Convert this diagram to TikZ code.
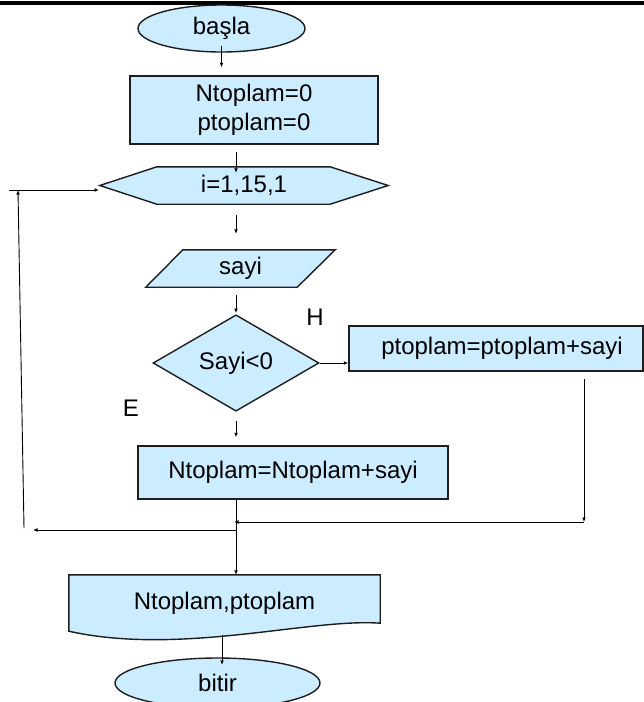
\documentclass[tikz,border=0pt]{standalone}
\usepackage{fontspec}
\setmainfont{Liberation Sans}
\usetikzlibrary{shapes.geometric,arrows.meta,calc,backgrounds}
\definecolor{fillblue}{RGB}{204,236,255}
\definecolor{edgecol}{RGB}{30,30,30}
\begin{document}
\begin{tikzpicture}[x=1pt,y=-1pt,
  every node/.style={font=\fontsize{24pt}{28.8pt}\selectfont, inner sep=0pt, text=black},
  shapeline/.style={draw=edgecol, line width=1.4pt, fill=fillblue},
  procbox/.style={shapeline, rectangle},
  term/.style={shapeline, ellipse},
  decbox/.style={shapeline, diamond},
  arr/.style={draw=black, line width=0.9pt, -{Latex[length=4.5pt,width=3.8pt]}},
  plainline/.style={draw=black, line width=0.9pt}]
\useasboundingbox (0,0) rectangle (644,702);
\clip (0,0) rectangle (644,702);

% top rule
\draw[line width=3.5pt] (0,3) -- (644,3);

% nodes
\node[term, minimum width=167pt, minimum height=47pt] (basla) at (221.5,28.5) {başla};
\node[procbox, minimum width=248pt, minimum height=68pt, align=center] (init) at (254,110) {Ntoplam=0\\ptoplam=0};
\node[minimum width=288pt, minimum height=37pt] (loop) at (244,185.5) {i=1,15,1};
\node[minimum width=189pt, minimum height=37pt] (sayi) at (240.5,268.5) {sayi};
\node[decbox, minimum width=166pt, minimum height=90pt] (dec) at (236,363) {Sayi<0};
\node[procbox, minimum width=294pt, minimum height=45pt] (pbox) at (496,348.5) {\hspace*{12pt}ptoplam=ptoplam+sayi};
\node[procbox, minimum width=310pt, minimum height=53pt] (nbox) at (293,472.5) {Ntoplam=Ntoplam+sayi};
\node[minimum width=311pt, minimum height=57pt] (out) at (224.5,603.5) {Ntoplam,ptoplam};
\node[term, minimum width=205pt, minimum height=50pt] (bitir) at (217.5,683) {bitir};
\node (H) at (315,317) {H};
\node (E) at (131,408) {E};

% shapes drawn behind their texts
\begin{scope}[on background layer]
  \draw[shapeline] (loop.west) -- ($(loop.north west)+(57,0)$) -- ($(loop.north east)+(-58,0)$)
    -- (loop.east) -- ($(loop.south east)+(-58,0)$) -- ($(loop.south west)+(57,0)$) -- cycle;
  \draw[shapeline] (sayi.south west) -- ($(sayi.north west)+(37,0)$) -- (sayi.north east)
    -- ($(sayi.south east)+(-38,0)$) -- cycle;
  \draw[shapeline] (out.north west) -- (out.north east) -- ($(out.south east)+(0,-9)$)
    .. controls (310,618) and (180,656) .. ($(out.south west)+(0,-1)$) -- cycle;
\end{scope}

% connector coordinates
\coordinate (pd) at (584,522);
\coordinate (mj) at (236,522);
\coordinate (lj) at (236,530);
\coordinate (le) at (33,530);
\coordinate (vb) at (24,528);
\coordinate (vt) at (18,190);
\coordinate (hs) at (9,190);
\coordinate (he) at (99,190);
\coordinate (o2) at (222,635);
\coordinate (b2) at (222,665);

% connectors
\draw[arr, shorten <=-7pt, shorten >=8pt] (basla.south) -- (basla.south |- init.north);
\draw[arr, shorten <=7pt, shorten >=-6pt] (init.south -| dec.north) -- (loop.north -| dec.north);
\draw[arr, shorten <=11pt, shorten >=16pt] (loop.south -| dec.north) -- (sayi.north -| dec.north);
\draw[arr, shorten <=8pt, shorten >=1pt] (sayi.south -| dec.north) -- (dec.north);
\draw[arr] (dec.east) -- (dec.east -| pbox.west);
\draw[arr, shorten <=9pt, shorten >=8pt] (dec.south) -- (nbox.north -| dec.south);
\draw[arr, shorten <=7pt] (pbox.south -| pd) -- (pd);
\draw[arr, shorten >=-2pt] (pd) -- (mj);
\draw[arr] (nbox.south -| dec.south) -- (out.north -| dec.south);
\draw[arr] (lj) -- (le);
\draw[arr] (vb) -- (vt);
\draw[arr] (hs) -- (he);
\draw[arr] (o2) -- (b2);
\end{tikzpicture}
\end{document}
